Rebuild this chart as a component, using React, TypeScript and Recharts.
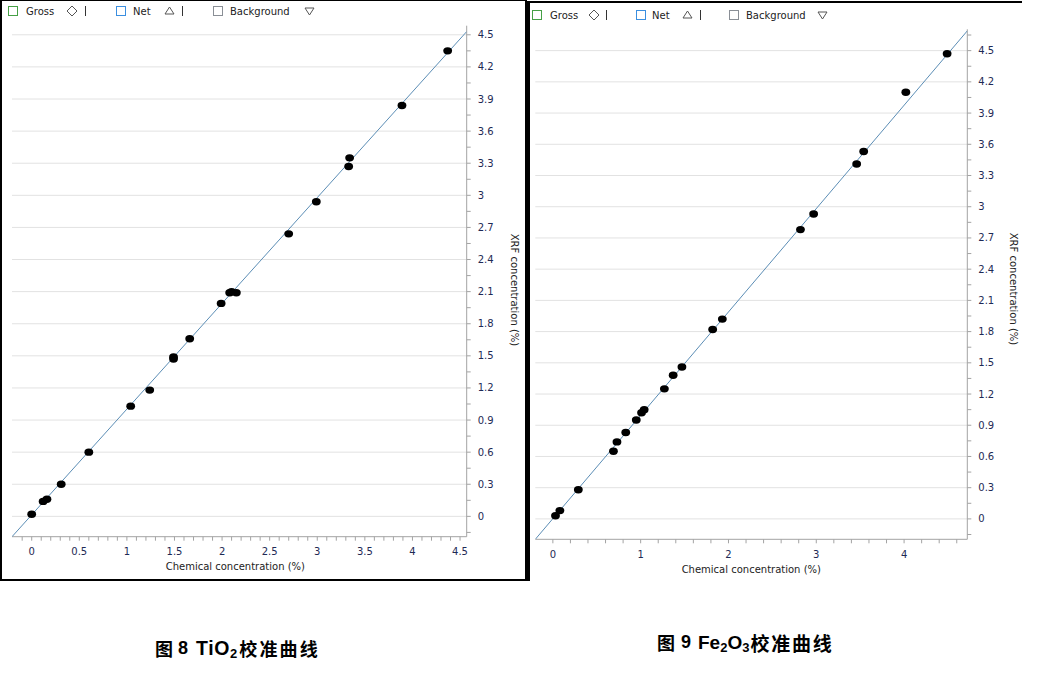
import React from 'react';
import { ScatterChart, Scatter, XAxis, YAxis, CartesianGrid } from 'recharts';

// ---------- data ----------
const tio2Chemical = [0.0, 0.12, 0.16, 0.31, 0.6, 1.04, 1.24, 1.49, 1.49, 1.66, 1.99, 2.08, 2.1, 2.15, 2.7, 2.99, 3.33, 3.34, 3.89, 4.37];
const tio2Xrf = [0.02, 0.14, 0.16, 0.3, 0.6, 1.03, 1.18, 1.49, 1.47, 1.66, 1.99, 2.09, 2.1, 2.09, 2.64, 2.94, 3.27, 3.35, 3.84, 4.35];
const tio2FitX = [-0.207, 4.57];
const tio2FitY = [-0.19, 4.53];

const fe2o3Chemical = [0.03, 0.08, 0.29, 0.69, 0.73, 0.83, 0.95, 1.01, 1.04, 1.27, 1.37, 1.47, 1.82, 1.93, 2.82, 2.97, 3.46, 3.54, 4.02, 4.49];
const fe2o3Xrf = [0.03, 0.08, 0.28, 0.65, 0.74, 0.83, 0.95, 1.02, 1.05, 1.25, 1.38, 1.46, 1.82, 1.92, 2.78, 2.93, 3.41, 3.53, 4.1, 4.47];
const fe2o3FitX = [-0.2, 4.72];
const fe2o3FitY = [-0.196, 4.69];

const tio2XMajor = [0, 0.5, 1, 1.5, 2, 2.5, 3, 3.5, 4, 4.5];
const fe2o3XMajor = [0, 1, 2, 3, 4];
const yMajor = [0, 0.3, 0.6, 0.9, 1.2, 1.5, 1.8, 2.1, 2.4, 2.7, 3, 3.3, 3.6, 3.9, 4.2, 4.5];

const legendLabels = ['Gross', 'Net', 'Background'];
const xTitle = 'Chemical concentration (%)';
const yTitle = 'XRF concentration (%)';

// ---------- helpers ----------
const FONT = '"DejaVu Sans", Verdana, sans-serif';
const TICK_COLOR = '#1e2a55';
const AXIS_COLOR = '#a3a3a3';
const GRID_COLOR = '#e2e2e2';
const FRAME_LIGHT = '#d6d6d6';
const FIT_COLOR = '#5b8db5';

const stepTicks = (from: number, to: number, step: number) => {
  const out: number[] = [];
  const n = Math.round((to - from) / step);
  for (let i = 0; i <= n; i++) out.push(Number((from + i * step).toFixed(4)));
  return out;
};
const isIn = (arr: number[], v: number) => arr.some((a) => Math.abs(a - v) < 1e-6);
const fmt = (v: number) => String(Number(v.toFixed(2)));

const makeXTick = (majors: number[]) => (props: any) => {
  const { x, y, payload } = props;
  const v = payload.value;
  return (
    <g>
      <line x1={x} x2={x} y1={y} y2={y + 4} stroke={AXIS_COLOR} strokeWidth={1} />
      {isIn(majors, v) && (
        <text x={x} y={y + 15} textAnchor="middle" dominantBaseline="central" fontSize={10} fontFamily={FONT} fill={TICK_COLOR}>
          {fmt(v)}
        </text>
      )}
    </g>
  );
};

const makeYTick = (majors: number[]) => (props: any) => {
  const { x, y, payload } = props;
  const v = payload.value;
  return (
    <g>
      <line x1={x} x2={x + 4} y1={y} y2={y} stroke={AXIS_COLOR} strokeWidth={1} />
      {isIn(majors, v) && (
        <text x={x + 11} y={y} textAnchor="start" dominantBaseline="central" fontSize={10} fontFamily={FONT} fill={TICK_COLOR}>
          {fmt(v)}
        </text>
      )}
    </g>
  );
};

const Dot = (p: any) => <ellipse cx={p.cx} cy={p.cy} rx={4.4} ry={3.7} fill="#000" />;
const NoDot = () => <g />;

type PanelProps = {
  left: number;
  top: number;
  width: number;
  height: number;
  margin: { top: number; right: number; bottom: number; left: number };
  xDomain: [number, number];
  yDomain: [number, number];
  xTicks: number[];
  xMajors: number[];
  yTicks: number[];
  chem: number[];
  xrf: number[];
  fitX: number[];
  fitY: number[];
  xAxisHeight: number;
  xTitleDx: number;
  yTitleDx: number;
  yTitleCy: number;
};

const Panel = (p: PanelProps) => {
  const points = p.chem.map((c, i) => ({ x: c, y: p.xrf[i] }));
  const fit = p.fitX.map((c, i) => ({ x: c, y: p.fitY[i] }));
  const xLabel = (lp: any) => {
    const vb = lp.viewBox || {};
    return (
      <text x={vb.x + vb.width / 2 + p.xTitleDx} y={vb.y + 30} textAnchor="middle" dominantBaseline="central" fontSize={10} fontFamily={FONT} fill="#222">
        {xTitle}
      </text>
    );
  };
  const yLabel = (lp: any) => {
    const vb = lp.viewBox || {};
    const cx = vb.x + p.yTitleDx;
    const cy = p.yTitleCy;
    return (
      <text x={cx} y={cy} transform={`rotate(90 ${cx} ${cy})`} textAnchor="middle" dominantBaseline="central" fontSize={10} fontFamily={FONT} fill="#222">
        {yTitle}
      </text>
    );
  };
  return (
    <div style={{ position: 'absolute', left: p.left, top: p.top }}>
      <ScatterChart width={p.width} height={p.height} margin={p.margin}>
        <CartesianGrid horizontal vertical={false} stroke={GRID_COLOR} horizontalValues={yMajor} />
        <XAxis
          type="number"
          dataKey="x"
          domain={p.xDomain}
          allowDataOverflow
          ticks={p.xTicks}
          interval={0}
          tickSize={0}
          tickMargin={0}
          tickLine={false}
          tick={makeXTick(p.xMajors)}
          axisLine={{ stroke: AXIS_COLOR }}
          height={p.xAxisHeight}
          label={xLabel}
        />
        <XAxis xAxisId="top" orientation="top" type="number" domain={p.xDomain} allowDataOverflow height={0} tick={false} tickLine={false} axisLine={{ stroke: FRAME_LIGHT }} />
        <YAxis
          type="number"
          dataKey="y"
          orientation="right"
          domain={p.yDomain}
          allowDataOverflow
          ticks={p.yTicks}
          interval={0}
          tickSize={0}
          tickMargin={0}
          tickLine={false}
          tick={makeYTick(yMajor)}
          axisLine={{ stroke: AXIS_COLOR }}
          width={50}
          label={yLabel}
        />
        <YAxis yAxisId="left" orientation="left" type="number" domain={p.yDomain} allowDataOverflow width={0} tick={false} tickLine={false} axisLine={{ stroke: FRAME_LIGHT }} />
        <Scatter data={fit} line={{ stroke: FIT_COLOR, strokeWidth: 1 }} shape={NoDot} isAnimationActive={false} />
        <Scatter data={points} shape={Dot} isAnimationActive={false} />
      </ScatterChart>
    </div>
  );
};

// ---------- legend ----------
const LegendSym = ({ kind, x, cy }: { kind: string; x: number; cy: number }) => {
  if (kind === 'diamond')
    return <polygon points={`${x + 5},${cy - 5} ${x + 10},${cy} ${x + 5},${cy + 5} ${x},${cy}`} fill="none" stroke="#555" strokeWidth={1} />;
  if (kind === 'up') return <polygon points={`${x + 4.5},${cy - 4} ${x + 9},${cy + 3} ${x},${cy + 3}`} fill="none" stroke="#555" strokeWidth={1} />;
  return <polygon points={`${x},${cy - 3} ${x + 9},${cy - 3} ${x + 4.5},${cy + 4}`} fill="none" stroke="#555" strokeWidth={1} />;
};

const boxColors = ['#46a046', '#3b8fe0', '#8a8f96'];
const symKinds = ['diamond', 'up', 'down'];

const Legend = ({ cy, box, text, sym, bar }: { cy: number; box: number[]; text: number[]; sym: number[]; bar: number[] }) => (
  <g>
    {legendLabels.map((lab, i) => (
      <g key={lab}>
        <rect x={box[i] + 0.5} y={cy - 4.5} width={9} height={9} fill="#fff" stroke={boxColors[i]} strokeWidth={1} />
        <text x={text[i]} y={cy} dominantBaseline="central" fontSize={10} fontFamily={FONT} fill="#222">
          {lab}
        </text>
        <LegendSym kind={symKinds[i]} x={sym[i]} cy={cy} />
        {i < 2 && <line x1={bar[i] + 0.5} x2={bar[i] + 0.5} y1={cy - 5} y2={cy + 5} stroke="#333" strokeWidth={1} />}
      </g>
    ))}
  </g>
);

// ---------- captions ----------
const CAP_LATIN = '"Liberation Sans", Arial, sans-serif';
const CAP_CJK = '"Noto Sans CJK SC", sans-serif';

export default function App() {
  return (
    <div style={{ position: 'absolute', left: 0, top: 0, width: 1038, height: 686, background: '#fff', overflow: 'hidden' }}>
      {/* frames */}
      <div style={{ position: 'absolute', left: 0, top: 0, width: 527, height: 581, border: '2px solid #000', borderTopWidth: 1, boxSizing: 'border-box' }} />
      <div style={{ position: 'absolute', left: 527, top: 1, width: 495, height: 580, borderLeft: '3px solid #000', borderTop: '2px solid #000', boxSizing: 'border-box' }} />

      <Panel
        left={0}
        top={0}
        width={528}
        height={580}
        margin={{ top: 25.7, right: 11.3, left: 12, bottom: 3.3 }}
        xDomain={[-0.207, 4.57]}
        yDomain={[-0.19, 4.585]}
        xTicks={stepTicks(-0.1, 4.5, 0.1)}
        xMajors={tio2XMajor}
        yTicks={stepTicks(-0.15, 4.5, 0.15)}
        chem={tio2Chemical}
        xrf={tio2Xrf}
        fitX={tio2FitX}
        fitY={tio2FitY}
        xAxisHeight={40}
        xTitleDx={-4}
        yTitleDx={48}
        yTitleCy={290}
      />
      <Panel
        left={528}
        top={0}
        width={510}
        height={580}
        margin={{ top: 29.3, right: 20.7, left: 7.3, bottom: 2.7 }}
        xDomain={[-0.2, 4.72]}
        yDomain={[-0.196, 4.705]}
        xTicks={stepTicks(0, 4.6, 0.2)}
        xMajors={fe2o3XMajor}
        yTicks={stepTicks(-0.15, 4.65, 0.15)}
        chem={fe2o3Chemical}
        xrf={fe2o3Xrf}
        fitX={fe2o3FitX}
        fitY={fe2o3FitY}
        xAxisHeight={38}
        xTitleDx={0}
        yTitleDx={46}
        yTitleCy={289}
      />

      <svg style={{ position: 'absolute', left: 0, top: 0 }} width={1038} height={40}>
        <Legend cy={11} box={[8, 116, 213]} text={[26, 133, 230]} sym={[67, 165, 305]} bar={[85, 182]} />
        <Legend cy={15} box={[532, 636, 729]} text={[550, 652, 746]} sym={[589, 683, 818]} bar={[606, 700]} />
      </svg>

      <svg style={{ position: 'absolute', left: 0, top: 620 }} width={1038} height={60}>
        <text x={155} y={28} dominantBaseline="central" fontSize={18} fontWeight="bold" fill="#000" style={{ whiteSpace: 'pre' }}>
          <tspan fontFamily={CAP_CJK}>图</tspan>
          <tspan fontFamily={CAP_LATIN} dx={5}>8</tspan>
          <tspan fontFamily={CAP_LATIN} dx={8} fontSize={19.5} letterSpacing={0.6}>TiO</tspan>
          <tspan fontFamily={CAP_LATIN} fontSize={13} dy={5}>2</tspan>
          <tspan fontFamily={CAP_CJK} dy={-5} dx={2} letterSpacing={2.2}>校准曲线</tspan>
        </text>
        <text x={657} y={22} dominantBaseline="central" fontSize={18} fontWeight="bold" fill="#000" style={{ whiteSpace: 'pre' }}>
          <tspan fontFamily={CAP_CJK}>图</tspan>
          <tspan fontFamily={CAP_LATIN} dx={6}>9</tspan>
          <tspan fontFamily={CAP_LATIN} dx={7} fontSize={19}>Fe</tspan>
          <tspan fontFamily={CAP_LATIN} fontSize={13} dy={5}>2</tspan>
          <tspan fontFamily={CAP_LATIN} fontSize={19} dy={-5}>O</tspan>
          <tspan fontFamily={CAP_LATIN} fontSize={13} dy={5}>3</tspan>
          <tspan fontFamily={CAP_CJK} dy={-5} dx={1} fontSize={19} letterSpacing={1.8}>校准曲线</tspan>
        </text>
      </svg>
    </div>
  );
}
